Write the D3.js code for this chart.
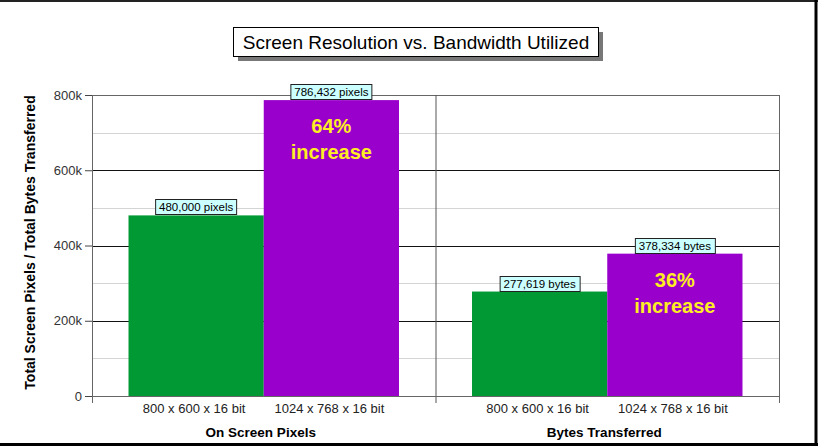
<!DOCTYPE html>
<html>
<head>
<meta charset="utf-8">
<script src="https://cdn.jsdelivr.net/npm/d3@7"></script>
<style>
  body { margin: 0; background: #fff; }
  svg { display: block; font-family: "Liberation Sans", Arial, sans-serif; }
</style>
</head>
<body>
<svg id="chart" width="820" height="446"></svg>
<script>
// chart data
var groups = ["On Screen Pixels", "Bytes Transferred"];
var resolutions = ["800 x 600 x 16 bit", "1024 x 768 x 16 bit"];
var pixelValues = [480000, 786432];
var byteValues = [277619, 378334];
var valueUnits = ["pixels", "bytes"];
var increaseLabels = ["64%", "36%"];
var yTicks = [0, 200000, 400000, 600000, 800000];
var yMinorTicks = [100000, 300000, 500000, 700000];

var svg = d3.select("svg#chart");
var margin = {top: 95, right: 41, bottom: 50, left: 92};
var plotW = 820 - margin.left - margin.right;
var plotH = 446 - margin.top - margin.bottom;

var seriesValues = [pixelValues, byteValues];
var barData = [];
groups.forEach(function(g, gi) {
    resolutions.forEach(function(r, ri) {
        barData.push({group: g, res: r, value: seriesValues[gi][ri], unit: valueUnits[gi], idx: ri, gi: gi});
    });
});

var x0 = d3.scaleBand().domain(groups).range([0, plotW]).padding(0);
var x1 = d3.scaleBand().domain(resolutions).range([0, x0.bandwidth()]).paddingInner(0).paddingOuter(0.27);
var y = d3.scaleLinear().domain([0, 800000]).range([plotH, 0]);
var colors = d3.scaleOrdinal().domain(resolutions).range(["#009933", "#9900cc"]);

// frame
svg.append("line").attr("x1", 0).attr("x2", 818).attr("y1", 1).attr("y2", 1)
    .attr("stroke", "#222").attr("stroke-width", 2);
svg.append("line").attr("x1", 816).attr("x2", 816).attr("y1", 0).attr("y2", 446)
    .attr("stroke", "#000").attr("stroke-width", 3);
svg.append("line").attr("x1", 0).attr("x2", 818).attr("y1", 444.5).attr("y2", 444.5)
    .attr("stroke", "#000").attr("stroke-width", 3);

// title with shadow
var tb = {x: 233, y: 27, w: 365, h: 29};
svg.append("rect").attr("x", tb.x + 5).attr("y", tb.y + 5).attr("width", tb.w).attr("height", tb.h)
    .attr("fill", "#777");
svg.append("rect").attr("x", tb.x + 0.5).attr("y", tb.y + 0.5).attr("width", tb.w).attr("height", tb.h)
    .attr("fill", "#fff").attr("stroke", "#000");
svg.append("text").attr("x", tb.x + tb.w / 2 + 0.5).attr("y", tb.y + 22)
    .attr("text-anchor", "middle").style("font-size", "19px").attr("fill", "#000")
    .text("Screen Resolution vs. Bandwidth Utilized");

var g = svg.append("g").attr("transform", "translate(" + margin.left + "," + margin.top + ")");

// minor gridlines
g.selectAll(".minor").data(yMinorTicks).enter().append("line")
    .attr("x1", 0).attr("x2", plotW)
    .attr("y1", function(d) { return Math.round(y(d)) + 0.5; })
    .attr("y2", function(d) { return Math.round(y(d)) + 0.5; })
    .attr("stroke", "#d4d4d4");

// major gridlines
g.selectAll(".major").data(yTicks.slice(1, 4)).enter().append("line")
    .attr("x1", 0).attr("x2", plotW)
    .attr("y1", function(d) { return Math.round(y(d)) + 0.5; })
    .attr("y2", function(d) { return Math.round(y(d)) + 0.5; })
    .attr("stroke", "#111");

// top + right border
g.append("line").attr("x1", 0).attr("x2", plotW).attr("y1", 0.5).attr("y2", 0.5).attr("stroke", "#666");
g.append("line").attr("x1", plotW + 0.5).attr("x2", plotW + 0.5).attr("y1", 0).attr("y2", plotH + 7).attr("stroke", "#666");

// bars
g.selectAll(".bar").data(barData).enter().append("rect")
    .attr("class", "bar")
    .attr("x", function(d) { return x0(d.group) + x1(d.res); })
    .attr("y", function(d) { return y(d.value); })
    .attr("width", x1.bandwidth())
    .attr("height", function(d) { return plotH - y(d.value); })
    .attr("fill", function(d) { return colors(d.res); });

// group separator
g.append("line").attr("x1", x0(groups[1]) + 0.5).attr("x2", x0(groups[1]) + 0.5)
    .attr("y1", 0).attr("y2", plotH + 7).attr("stroke", "#555");

// baseline
g.append("line").attr("x1", 0).attr("x2", plotW).attr("y1", plotH + 0.5).attr("y2", plotH + 0.5).attr("stroke", "#666");

// y axis
var yAxis = g.append("g").call(d3.axisLeft(y).tickValues(yTicks).tickSize(7).tickPadding(3)
    .tickFormat(function(d) { return d ? (d / 1000) + "k" : "0"; }));
yAxis.select(".domain").attr("stroke", "#666").attr("d", "M0.5," + (plotH + 7) + "V0");
yAxis.selectAll(".tick line").attr("stroke", "#444");
yAxis.selectAll(".tick text").style("font-size", "13px").style("font-family", "Liberation Sans, Arial, sans-serif").attr("fill", "#333");

// y title
svg.append("text")
    .attr("transform", "translate(35," + (margin.top + plotH / 2 - 3) + ") rotate(-90)")
    .attr("text-anchor", "middle").style("font-size", "14px").style("font-weight", "bold")
    .text("Total Screen Pixels / Total Bytes Transferred");

// category labels
g.selectAll(".cat").data(barData).enter().append("text")
    .attr("x", function(d) { return x0(d.group) + x1(d.res) + x1.bandwidth() / 2 - 2; })
    .attr("y", plotH + 17)
    .attr("text-anchor", "middle").style("font-size", "13px").attr("fill", "#222")
    .text(function(d) { return d.res; });

// group labels
g.selectAll(".grp").data(groups).enter().append("text")
    .attr("x", function(d) { return x0(d) + x0.bandwidth() / 2 - 3; })
    .attr("y", plotH + 41)
    .attr("text-anchor", "middle").style("font-size", "13.5px").style("font-weight", "bold")
    .text(function(d) { return d; });

// value label boxes
var fmt = d3.format(",");
var labels = g.selectAll(".vlab").data(barData).enter().append("g")
    .attr("transform", function(d) {
        return "translate(" + (x0(d.group) + x1(d.res) + x1.bandwidth() / 2) + "," + Math.round(y(d.value)) + ")";
    });
labels.append("text")
    .attr("text-anchor", "middle").attr("y", -4)
    .style("font-size", "11.5px").attr("fill", "#000")
    .text(function(d) { return fmt(d.value) + " " + d.unit; })
    .each(function() {
        var bb = this.getBBox();
        d3.select(this.parentNode).insert("rect", "text")
            .attr("x", Math.round(bb.x) - 3.5).attr("y", -15.5)
            .attr("width", Math.round(bb.width) + 7).attr("height", 15)
            .attr("fill", "#ccffff").attr("stroke", "#222");
    });

// increase labels on purple bars
var incBars = barData.filter(function(d) { return d.idx === 1; });
incBars.forEach(function(d, i) {
    var cx = x0(d.group) + x1(d.res) + x1.bandwidth() / 2;
    var top = y(d.value);
    g.append("text").attr("x", cx).attr("y", top + 33)
        .attr("text-anchor", "middle").style("font-size", "20px").style("font-weight", "bold")
        .attr("fill", "#ffee22").text(increaseLabels[i]);
    g.append("text").attr("x", cx).attr("y", top + 59)
        .attr("text-anchor", "middle").style("font-size", "20px").style("font-weight", "bold")
        .attr("fill", "#ffee22").text("increase");
});
</script>
</body>
</html>
